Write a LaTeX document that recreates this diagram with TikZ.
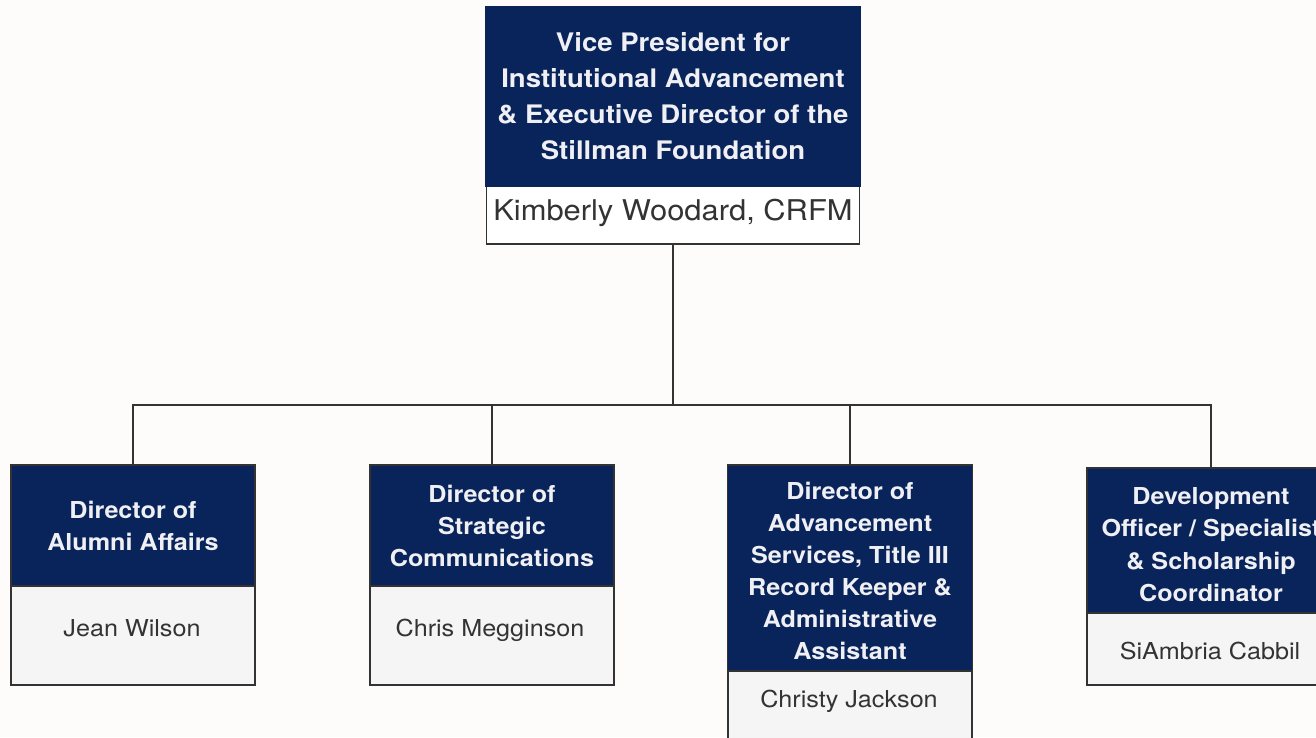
\documentclass[tikz,border=0pt]{standalone}
\usepackage{fontspec}
\setmainfont[FakeStretch=1.08]{TeX Gyre Heros}
\definecolor{navy}{HTML}{08245A}
\definecolor{edge}{HTML}{333333}
\definecolor{bg}{HTML}{FDFCFB}
\definecolor{bodyfill}{HTML}{F5F5F5}
\definecolor{headtxt}{HTML}{F0F0F4}
\definecolor{nametxt}{HTML}{333333}
\begin{document}
\begin{tikzpicture}[x=1pt,y=-1pt,
  head/.style={rectangle, fill=navy, draw=edge, line width=1.5pt, text=headtxt, align=center, minimum width=244pt, inner sep=0pt, font=\bfseries\fontsize{23.3}{32}\selectfont},
  bodybox/.style={rectangle, fill=bodyfill, draw=edge, line width=1.5pt, minimum width=244pt, inner sep=0pt},
  persontext/.style={text=nametxt, inner sep=0pt, font=\fontsize{23.3}{26}\selectfont},
  link/.style={draw=edge, line width=1.3pt}]
\fill[bg] (0,0) rectangle (1316,737);
\useasboundingbox (0,0) rectangle (1316,737);
\begin{scope}
\clip (0,0) rectangle (1316,737);
% top
\node[bodybox, fill=white, minimum width=373pt, minimum height=60pt] (vpb) at (673,214) {};
\node[persontext, font=\fontsize{28.6}{30}\selectfont] (vpn) at (673,213) {Kimberly Woodard, CRFM};
\node[head, minimum width=375pt, minimum height=179pt, draw=navy, font=\bfseries\fontsize{25.5}{36}\selectfont] (vph) at (673,96.5) {Vice President for\\Institutional Advancement\\\& Executive Director of the\\Stillman Foundation};
% children
\node[bodybox, minimum height=99pt] (b1) at (133,635.5) {};
\node[persontext] (n1) at (132,628) {Jean Wilson};
\node[head, minimum height=121pt] (h1) at (133,525.5) {Director of\\Alumni Affairs};
\node[bodybox, minimum height=99pt] (b2) at (492,635.5) {};
\node[persontext] (n2) at (490,630) {Chris Megginson};
\node[head, minimum height=121pt] (h2) at (492,525.5) {Director of\\Strategic\\Communications};
\node[bodybox, minimum height=100pt] (b3) at (850,721) {};
\node[persontext] (n3) at (849,701) {Christy Jackson};
\node[head, minimum width=245pt, minimum height=206pt, text depth=0pt] (h3) at (850,568) {};
\node[text=headtxt, align=center, inner sep=0pt, font=\bfseries\fontsize{23.3}{32}\selectfont] (t3) at (850,571) {Director of\\Advancement\\Services, Title III\\Record Keeper \&\\Administrative\\Assistant};
\node[head, minimum width=248pt, minimum height=145pt] (h4) at (1211,540.5) {};
\node[text=headtxt, align=center, inner sep=0pt, font=\bfseries\fontsize{23.3}{32.4}\selectfont] (t4) at (1211,544.5) {Development\\Officer / Specialist\\\& Scholarship\\Coordinator};
\node[bodybox, minimum width=248pt, minimum height=72pt] (b4) at (1211,649) {};
\node[persontext] (n4) at (1210,651) {SiAmbria Cabbil};
% connectors
\coordinate (j) at (673,405);
\draw[link] (vpb.south) -- (j);
\draw[link] (h1.north) |- (j) -| (h4.north);
\draw[link] (h2.north) |- (j);
\draw[link] (h3.north) |- (j);
\end{scope}
\end{tikzpicture}
\end{document}
